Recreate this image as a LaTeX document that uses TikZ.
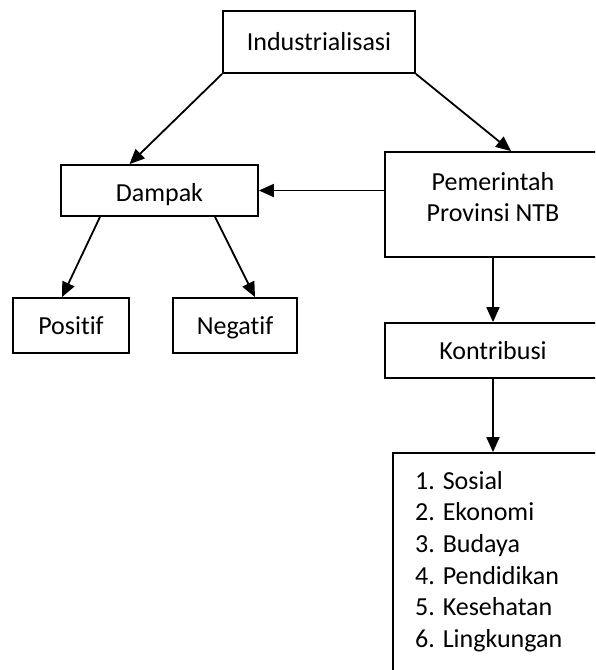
\documentclass[tikz,border=0pt]{standalone}
\usepackage{fontspec}
\setmainfont{Carlito}[Ligatures=NoCommon]
\usepackage{tikz}
\usetikzlibrary{arrows.meta,positioning}

\begin{document}
\begin{tikzpicture}[x=1pt, y=1pt,
    box/.style={draw, line width=1.8pt, inner sep=0pt, text height=19pt, text depth=2pt,
                font=\fontsize{26}{31}\selectfont},
    arr/.style={-{Triangle[length=15pt,width=13pt]}, line width=1.8pt}]
  \useasboundingbox (0,0) rectangle (595,-670);
  \clip (0,0) rectangle (595,-670);

  \node[box, minimum width=192, minimum height=62] (ind) at (319,-42) {Industrialisasi};
  \node[box, minimum width=197, minimum height=51, text height=22pt, text depth=0pt] (dampak) at (159.5,-190.5) {Dampak};
  \node[box, minimum width=216, minimum height=105,
        label={[name=pemtext, align=center, font=\fontsize{26}{31}\selectfont, yshift=7]center:Pemerintah\\Provinsi NTB}]
        (pem) at (493,-204.5) {};
  \node[box, minimum width=116, minimum height=55] (positif) at (71,-325.5) {Positif};
  \node[box, minimum width=124, minimum height=55] (negatif) at (235,-325.5) {Negatif};
  \node[box, minimum width=216, minimum height=55] (kontribusi) at (493,-350.5) {Kontribusi};

  % daftar kontribusi
  \node[box, minimum width=217, minimum height=247] (daftar) at (501.5,-576.5) {};
  \node[anchor=north west, align=left, inner sep=0pt, font=\fontsize{26}{31.6}\selectfont]
        (daftartext) at (415,-471) {1. Sosial\\2. Ekonomi\\3. Budaya\\4. Pendidikan\\5. Kesehatan\\6. Lingkungan};

  \draw[arr] (ind.south west) -- ([xshift=-30]dampak.north);
  \draw[arr] (ind.south east) -- ([xshift=18]pem.north);
  \draw[arr] (pem.west |- dampak.east) -- (dampak.east);
  \draw[arr] ([xshift=-59.5]dampak.south) -- ([xshift=-9]positif.north);
  \draw[arr] ([xshift=55.5]dampak.south) -- ([xshift=20]negatif.north);
  \draw[arr] (pem.south) -- (kontribusi.north);
  \draw[arr] (kontribusi.south) -- (kontribusi.south |- daftar.north);
\end{tikzpicture}
\end{document}
